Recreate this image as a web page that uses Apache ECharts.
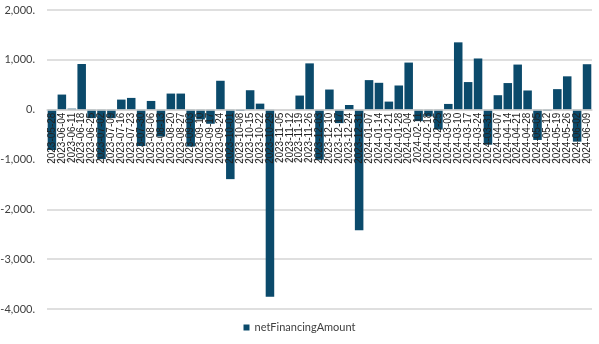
<!DOCTYPE html>
<html>
<head>
<meta charset="utf-8">
<script src="https://cdn.jsdelivr.net/npm/echarts@6/dist/echarts.min.js"></script>
<style>html,body{margin:0;padding:0;background:#fff;}#c{width:599px;height:344px;}</style>
</head>
<body>
<div id="c"></div>
<script>
const categories = [
  "2023-05-28","2023-06-04","2023-06-11","2023-06-18","2023-06-25","2023-07-02","2023-07-09","2023-07-16","2023-07-23","2023-07-30",
  "2023-08-06","2023-08-13","2023-08-20","2023-08-27","2023-09-03","2023-09-10","2023-09-17","2023-09-24","2023-10-01","2023-10-08",
  "2023-10-15","2023-10-22","2023-10-29","2023-11-05","2023-11-12","2023-11-19","2023-11-26","2023-12-03","2023-12-10","2023-12-17",
  "2023-12-24","2023-12-31","2024-01-07","2024-01-14","2024-01-21","2024-01-28","2024-02-04","2024-02-11","2024-02-18","2024-02-25",
  "2024-03-03","2024-03-10","2024-03-17","2024-03-24","2024-03-31","2024-04-07","2024-04-14","2024-04-21","2024-04-28","2024-05-05",
  "2024-05-12","2024-05-19","2024-05-26","2024-06-02","2024-06-09"
];
const netFinancingAmount = [
  -810, 303, 20, 916, -170, -990, -170, 202, 236, -730,
  175, -540, 323, 323, -740, -196, -283, 580, -1394, -25,
  390, 121, -3755, 0, 0, 283, 929, -1005, 404, -270,
  94, -2420, 593, 539, 162, 485, 945, -230, -135, -399,
  115, 1351, 554, 1027, -703, 290, 534, 905, 385, -608,
  -20, 412, 669, -642, 912
];
const seriesName = "netFinancingAmount";

const chart = echarts.init(document.getElementById('c'), null, {renderer: 'canvas'});
const option = {
  animation: false,
  backgroundColor: '#ffffff',
  grid: {left: 47, right: 7, top: 10, bottom: 35, containLabel: false, outerBoundsMode: 'none'},
  legend: {
    bottom: 6, left: 'center',
    icon: 'rect', itemWidth: 6, itemHeight: 6, itemGap: 4,
    textStyle: {fontFamily: 'Lato', fontSize: 11, color: '#404040'},
    data: [seriesName]
  },
  xAxis: {
    type: 'category',
    data: categories,
    offset: 0,
    axisLine: {onZero: false, lineStyle: {color: '#d4d4d4', width: 1.5}},
    axisTick: {show: false},
    axisLabel: {interval: 0, rotate: 90, fontFamily: 'Liberation Sans', fontSize: 10, color: '#222', margin: 3},
    z: 5
  },
  yAxis: {
    type: 'value',
    min: -4000, max: 2000, interval: 1000,
    axisLine: {show: false},
    axisTick: {show: false},
    splitLine: {lineStyle: {color: '#d4d4d4', width: 1.5}},
    axisLabel: {
      fontFamily: 'Lato', fontSize: 11, color: '#404040', margin: 12,
      formatter: v => v.toLocaleString('en-US') + '.'
    }
  },
  series: [{
    name: seriesName,
    type: 'bar',
    data: netFinancingAmount,
    barCategoryGap: '14%',
    itemStyle: {color: '#0b4a6b'}
  }]
};
chart.setOption(option);
// move the category axis (line + labels) up to the zero value of the y scale
const yZero = chart.convertToPixel({yAxisIndex: 0}, 0);
const yBottom = chart.convertToPixel({yAxisIndex: 0}, option.yAxis.min);
chart.setOption({xAxis: {offset: -(yBottom - yZero)}});
</script>
</body>
</html>
